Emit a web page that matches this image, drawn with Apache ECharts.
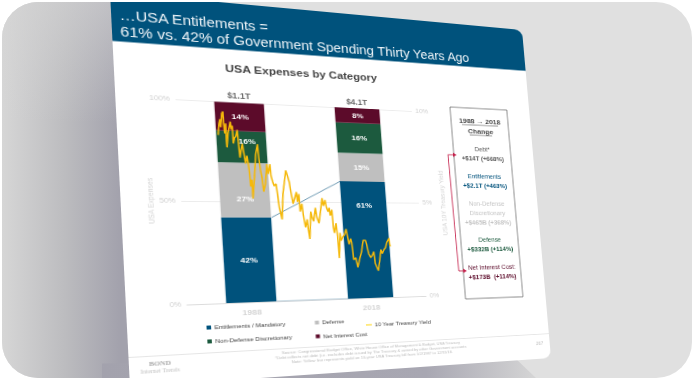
<!DOCTYPE html>
<html><head><meta charset="utf-8">
<script src="https://cdn.jsdelivr.net/npm/echarts@6/dist/echarts.min.js"></script>
<style>
html,body{margin:0;padding:0;background:#fff;width:694px;height:380px;overflow:hidden}
#frame{position:absolute;left:2px;top:2px;width:690px;height:376px;border-radius:36px;overflow:hidden;background:#e0e0e0}
#shadeL{position:absolute;left:0;top:0;width:140px;height:376px;
 background:linear-gradient(to bottom,rgba(214,214,214,.55) 0,rgba(214,214,214,0) 32%),linear-gradient(to right,#d6d6d6 0,#bcbcbf 45%,#a2a1ac 85%)}
#shadeB{position:absolute;left:100px;top:340px;width:450px;height:36px;clip-path:polygon(0 100%,0 60%,412px 15px,434px 100%);
 background:linear-gradient(to right,#a3a2ad 0,#a8a7b2 72%,#d6d6d6 97%)}
#wrap{position:absolute;left:-2px;top:-2px;width:694px;height:380px;filter:blur(.55px)}
#slide{position:absolute;left:0;top:0;width:420px;height:395px;background:#fff;border-radius:0 9px 9px 0;overflow:hidden;transform-origin:0 0}
#chart{width:420px;height:395px}
</style></head><body>
<div id="frame"><div id="shadeL"></div><div id="shadeB"></div>
<div id="wrap"><div id="slide"><div id="chart"></div></div></div></div>
<script>
const categories = ['1988','2018'];
const entitlements = [42, 61];
const defense = [27.4, 15];
const nonDefense = [16, 16];
const netInterest = [14.4, 8];
const totals = ['$1.1T','$4.1T'];
const leftTicks = [0,50,100];
const rightTicks = [0,5,10];
const yieldYears = [1987.94,1988.22,1988.41,1988.48,1988.78,1989.0,1989.02,1989.12,1989.37,1989.33,1989.37,1989.67,1989.93,1990.19,1990.31,1990.5,1990.51,1990.77,1990.99,1991.33,1991.4,1991.53,1991.82,1992.08,1992.27,1992.47,1992.76,1992.9,1993.04,1993.12,1993.4,1993.39,1993.91,1994.35,1994.77,1994.86,1995.03,1995.23,1995.38,1995.77,1996.24,1996.38,1996.79,1996.86,1997.1,1997.31,1997.68,1997.85,1998.0,1998.37,1998.82,1999.21,1999.6,1999.88,2000.11,2000.29,2000.56,2000.93,2001.3,2001.38,2001.73,2001.76,2002.16,2002.31,2002.57,2002.97,2003.05,2003.23,2003.72,2003.9,2004.15,2004.62,2004.8,2005.12,2005.6,2006.0,2006.15,2006.53,2006.72,2006.97,2007.23,2007.32,2007.7,2007.77,2007.9,2008.32,2008.45,2008.51,2008.95,2009.09,2009.45,2009.77,2010.15,2010.34,2010.54,2010.91,2011.06,2011.23,2011.65,2011.92,2012.45,2012.83,2013.29,2013.74,2013.92,2014.19,2014.54,2014.86,2015.22,2015.35,2015.6,2015.85,2016.23,2016.64,2016.88,2017.24,2017.57,2017.95,2018.18,2018.4,2018.49,2018.68];
const yieldValues = [8.3,8.9,9.1,8.7,9.4,9.5,8.9,8.4,8.9,8.0,7.7,8.4,8.7,9.0,8.6,8.8,7.9,8.2,8.25,8.6,8.0,7.2,7.6,7.9,7.4,6.9,7.3,7.0,6.5,5.75,6.1,5.15,6.3,7.4,7.9,7.2,6.6,6.2,5.5,5.9,6.9,6.4,6.9,6.3,6.0,5.8,5.9,5.3,4.7,4.1,5.4,6.0,6.6,6.3,6.0,5.5,4.9,5.2,5.5,5.0,5.4,4.5,4.9,4.3,3.7,4.1,3.6,3.1,4.5,4.2,4.0,4.7,4.2,3.9,4.6,5.2,4.8,5.1,4.7,4.5,4.7,4.3,4.6,3.7,3.4,3.9,3.2,2.1,3.4,3.0,3.2,3.3,3.6,3.2,2.8,3.1,2.9,2.0,2.1,1.6,2.1,2.4,3.0,3.0,2.8,2.3,2.1,2.2,2.4,1.8,1.6,1.4,1.9,2.5,2.3,2.5,2.6,2.9,3.0,3.1,2.7,2.7];
const connectorYears = [1996.5, 2009.75];
const changeLines = [
 ['Debt*','+$14T (+668%)','#555'],
 ['Entitlements','+$2.1T (+463%)','#00527c'],
 ['Non-Defense\nDiscretionary','+$465B (+368%)','#c4c4c4'],
 ['Defense','+$332B (+114%)','#1c5a3e'],
 ['Net Interest Cost:','+$173B  (+114%)','#5c0b2a']
];

// perspective of the slide, from its four corners on screen
const W=420,H=395;
const P=[[110,-8],[522,30],[551,358],[130,387]];
(function(){
 const dx1=P[1][0]-P[2][0],dx2=P[3][0]-P[2][0],sx=P[0][0]-P[1][0]+P[2][0]-P[3][0];
 const dy1=P[1][1]-P[2][1],dy2=P[3][1]-P[2][1],sy=P[0][1]-P[1][1]+P[2][1]-P[3][1];
 const det=dx1*dy2-dx2*dy1, g=(sx*dy2-dx2*sy)/det, h=(dx1*sy-sx*dy1)/det;
 const a=P[1][0]-P[0][0]+g*P[1][0], b=P[3][0]-P[0][0]+h*P[3][0], c=P[0][0];
 const d=P[1][1]-P[0][1]+g*P[1][1], e=P[3][1]-P[0][1]+h*P[3][1], f=P[0][1];
 document.getElementById('slide').style.transform='matrix3d('+[a/W,d/W,0,g/W,b/H,e/H,0,h/H,0,0,1,0,c,f,0,1].join(',')+')';
})();

const chart=echarts.init(document.getElementById('chart'),null,{renderer:'svg',width:W,height:H});
const font='"Liberation Sans",Arial,sans-serif';
const T=(x,y,text,o)=>({type:'text',x,y,silent:true,style:Object.assign({text,fontFamily:font,fontSize:7,fill:'#555',align:'center',verticalAlign:'middle'},o||{})});
const gfx=[
 {type:'rect',shape:{x:0,y:0,width:W,height:50.5},style:{fill:'#00527c'},z:-1},
 T(7,23.5,'…USA Entitlements =',{align:'left',fontSize:14,fill:'#eef4f8'}),
 T(7,40.5,'61% vs. 42% of Government Spending Thirty Years Ago',{align:'left',fontSize:14,fill:'#eef4f8'}),
 {type:'rect',shape:{x:327,y:100,width:66,height:222},style:{fill:'none',stroke:'#666',lineWidth:.8}},
 T(360,115,'1988 → 2018',{fontWeight:'bold',fontSize:8,fill:'#444'}),
 T(360,127,'Change',{fontWeight:'bold',fontSize:8,fill:'#444'}),
 {type:'line',shape:{x1:339,y1:120,x2:381,y2:120},style:{stroke:'#444',lineWidth:.6}},
 {type:'line',shape:{x1:347,y1:132,x2:373,y2:132},style:{stroke:'#444',lineWidth:.6}},
 {type:'polyline',shape:{points:[[327,156],[320.4,156],[322,290],[328,290]]},style:{stroke:'#c41f4a',fill:'none',lineWidth:.9}},
 {type:'polygon',shape:{points:[[326,153.5],[330,156],[326,158.5]]},style:{fill:'#c41f4a'}},
 {type:'polygon',shape:{points:[[327,287.5],[331,290],[327,292.5]]},style:{fill:'#c41f4a'}},
 {type:'line',shape:{x1:0,y1:366.5,x2:W,y2:366.5},style:{stroke:'#e6e6e6',lineWidth:1}},
 T(26,374.5,'BOND',{fontFamily:'"Liberation Serif",serif',fontWeight:'bold',fontSize:6.5,fill:'#aaa'}),
 T(26,381.5,'Internet Trends',{fontFamily:'"Liberation Serif",serif',fontSize:5.5,fill:'#c4c4c4'}),
 T(226,371,'Source: Congressional Budget Office, White House Office of Management & Budget, USA Treasury',{fontSize:4.15,fill:'#bbb'}),
 T(226,376,'*Debt reflects net debt (i.e. excludes debt issued by The Treasury & owned by other Government accounts',{fontSize:4.15,fill:'#bbb'}),
 T(226,381,'Note: Yellow line represents yield on 10-year USA Treasury bill from 1/2/1987 to 12/31/18.',{fontSize:4.15,fill:'#bbb'}),
 T(408,377,'267',{fontSize:5,fill:'#bbb'})
];
let yy=149;
const rowGap=[32,32,42,32,0];
changeLines.forEach((r,i)=>{
 const parts=r[0].split('\n');
 parts.forEach((p,k)=>gfx.push(T(360,yy+k*10.5,p,{fill:r[2],fontSize:7})));
 gfx.push(T(360,yy+parts.length*10.8,r[1],{fill:r[2],fontSize:7,fontWeight:'bold'}));
 yy+=rowGap[i];
});
const barLabel={show:true,color:'#fff',fontFamily:font,fontWeight:'bold',fontSize:8,position:'inside',formatter:p=>Math.round(p.value)+'%'};
const bar=(name,values,color,offsets)=>({name,type:'bar',stack:'a',barWidth:'40%',
 itemStyle:{color},label:barLabel,z:2,
 data:values.map((v,i)=>offsets&&offsets[i]?{value:v,label:{offset:offsets[i]}}:v)});
const legend=(name,left,top,extra)=>Object.assign({show:true,left,top,padding:0,itemGap:0,itemWidth:4,itemHeight:4,icon:'rect',selectedMode:false,
 textStyle:{fontFamily:font,fontSize:5.9,color:'#444',padding:[0,0,0,-2]},data:[name]},extra||{});
chart.setOption({
 animation:false,
 textStyle:{fontFamily:font},
 title:{text:'USA Expenses by Category',left:174,top:71,textAlign:'center',textVerticalAlign:'middle',padding:0,
  textStyle:{fontFamily:font,fontWeight:'bold',fontSize:11.5,color:'#444'}},
 graphic:{elements:gfx},
 grid:{left:52,top:107,width:232,height:210},
 legend:[
  legend('Entitlements / Mandatory',68,338),
  legend('Non-Defense Discretionary',68,352),
  legend('Defense',168.5,338),
  legend('Net Interest Cost',168.5,352.5),
  legend('10 Year Treasury Yield',219,343,{itemWidth:6,itemHeight:2,data:[{name:'10 Year Treasury Yield',icon:'rect',itemStyle:{color:'#ffe97f'}}]})
 ],
 xAxis:[
  {type:'category',data:categories,axisTick:{show:false},axisLine:{lineStyle:{color:'#dcdcdc'}},
   axisLabel:{color:'#d4d4d4',fontSize:8,fontWeight:'bold',margin:6}},
  {type:'value',min:1981,max:2025,show:false,splitLine:{show:false}}
 ],
 yAxis:[
  {type:'value',min:leftTicks[0],max:leftTicks[2],interval:leftTicks[1],name:'USA Expenses',nameLocation:'middle',nameGap:23,nameRotate:90,nameMoveOverlap:false,
   nameTextStyle:{color:'#d0d0d0',fontSize:7},axisLabel:{color:'#d0d0d0',fontSize:7,margin:5,formatter:'{value}%'},
   axisLine:{show:false},axisTick:{show:false},splitLine:{lineStyle:{color:'#ececec'}}},
  {type:'value',min:rightTicks[0],max:rightTicks[2],interval:rightTicks[1],position:'right',name:'USA 10Y Treasury Yield',nameLocation:'middle',nameGap:23,nameRotate:90,nameMoveOverlap:false,
   nameTextStyle:{color:'#d0d0d0',fontSize:7},axisLabel:{color:'#d0d0d0',fontSize:7,margin:4,formatter:'{value}%'},
   axisLine:{show:false},axisTick:{show:false},splitLine:{show:false}}
 ],
 series:[
  bar('Entitlements / Mandatory',entitlements,'#00527c',[null,[0,-38]]),
  bar('Defense',defense,'#bfbfbf',[[0,9],null]),
  bar('Non-Defense Discretionary',nonDefense,'#1c5a3e',[[5,-6],null]),
  bar('Net Interest Cost',netInterest,'#5c0b2a'),
  {type:'scatter',symbolSize:0,z:3,silent:true,data:totals.map((t,i)=>({value:[i,100],name:t})),
   label:{show:true,position:'top',distance:3,formatter:p=>p.name,color:'#444',fontFamily:font,fontWeight:'bold',fontSize:8.5}},
  {type:'line',xAxisIndex:1,yAxisIndex:0,symbol:'none',silent:true,z:1,lineStyle:{color:'#6f9bb4',width:1},
   data:[[connectorYears[0],entitlements[0]],[connectorYears[1],entitlements[1]]]},
  {type:'line',xAxisIndex:1,yAxisIndex:0,symbol:'none',silent:true,z:1,lineStyle:{color:'#9fbccd',width:1},
   data:[[connectorYears[0],0],[connectorYears[1],0]]},
  {name:'10 Year Treasury Yield',type:'line',xAxisIndex:1,yAxisIndex:1,symbol:'none',silent:true,z:5,
   lineStyle:{color:'#f5b90a',width:1.5},data:yieldYears.map((y,i)=>[y,yieldValues[i]])}
 ]
});
</script></body></html>
